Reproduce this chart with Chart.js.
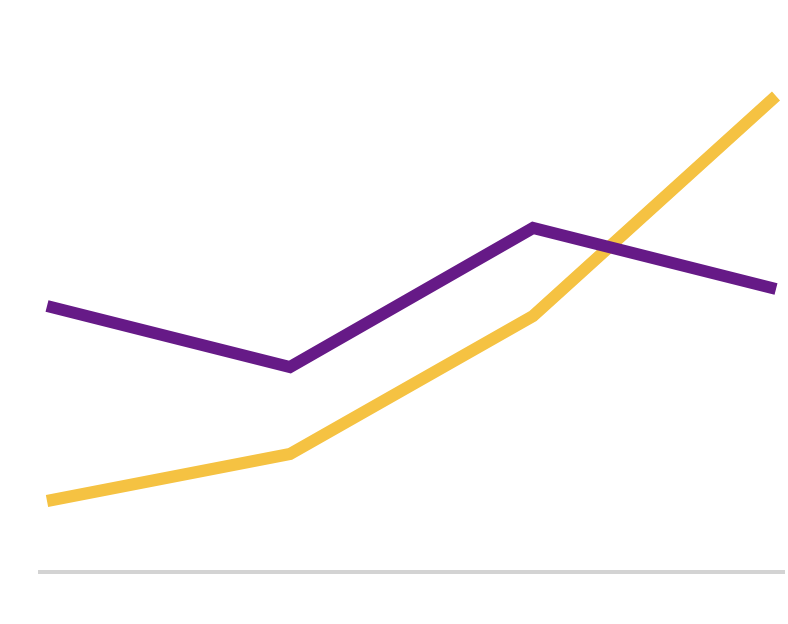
<!DOCTYPE html>
<html>
<head>
<meta charset="utf-8">
<script src="https://cdn.jsdelivr.net/npm/chart.js@4"></script>
<style>
  html, body { margin: 0; padding: 0; background: #fff; }
  #chart { display: block; }
</style>
</head>
<body>
<canvas id="chart" width="788" height="624"></canvas>
<script>
const steps = [0, 1, 2, 3]
const purpleValues = [53.2, 41, 68.8, 56.6]
const yellowValues = [14.2, 23.6, 51.2, 95.2]

const toPoints = (values) => values.map((v, i) => ({ x: steps[i], y: v }))

const ctx = document.getElementById("chart").getContext("2d")

new Chart(ctx, {
  type: "line",
  data: {
    datasets: [
      {
        label: "Purple",
        data: toPoints(purpleValues),
        borderColor: "#661a87",
        borderWidth: 12,
        pointRadius: 0,
        tension: 0,
        fill: false
      },
      {
        label: "Yellow",
        data: toPoints(yellowValues),
        borderColor: "#f5c242",
        borderWidth: 12,
        pointRadius: 0,
        tension: 0,
        fill: false
      }
    ]
  },
  options: {
    responsive: false,
    animation: false,
    layout: { padding: { top: 72, bottom: 52, left: 40, right: 4 } },
    plugins: {
      legend: { display: false },
      tooltip: { enabled: false }
    },
    scales: {
      x: {
        type: "linear",
        min: -0.0288,
        max: 3.0329,
        ticks: { display: false },
        grid: { display: false, drawTicks: false },
        border: { display: true, color: "#d3d3d3", width: 4 }
      },
      y: {
        display: false,
        min: 0,
        max: 100
      }
    }
  }
})
</script>
</body>
</html>
